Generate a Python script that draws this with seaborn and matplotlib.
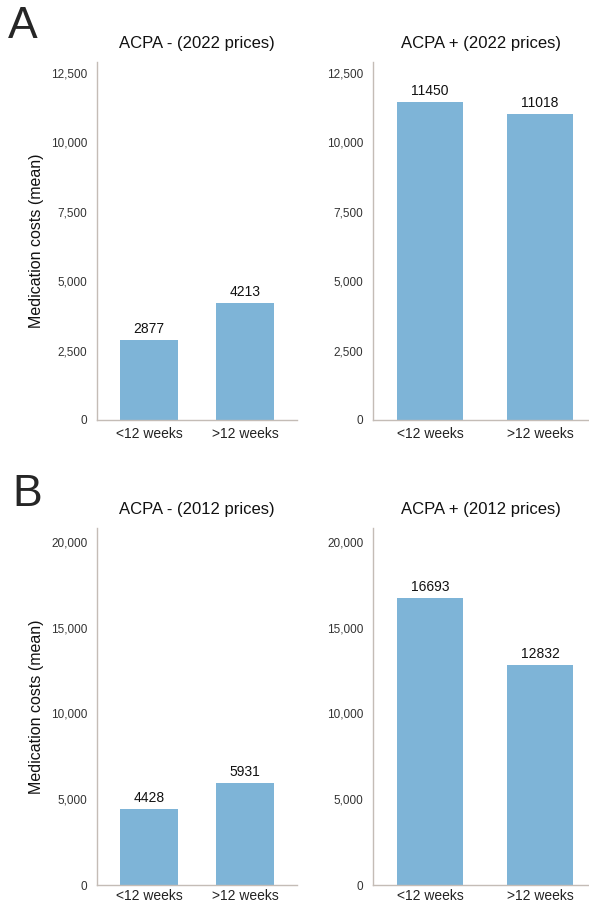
import pandas as pd
import matplotlib
matplotlib.use("Agg")
import matplotlib.pyplot as plt
import seaborn as sns
from matplotlib.ticker import FuncFormatter

# data
groups = ["<12 weeks", ">12 weeks"]
acpa_neg_2022 = [2877, 4213]
acpa_pos_2022 = [11450, 11018]
acpa_neg_2012 = [4428, 5931]
acpa_pos_2012 = [16693, 12832]

titles = ["ACPA - (2022 prices)", "ACPA + (2022 prices)",
          "ACPA - (2012 prices)", "ACPA + (2012 prices)"]
yticks_a = [0, 2500, 5000, 7500, 10000, 12500]
yticks_b = [0, 5000, 10000, 15000, 20000]

sns.set_style("white")
plt.rcParams["font.family"] = ["Liberation Sans", "DejaVu Sans"]

bar_color = "#7eb4d7"
spine_color = "#c4bcb6"

fig = plt.figure(figsize=(5.89, 9.05), dpi=100)
W, H = 589, 905


def px_axes(left, right, top, bottom):
    return fig.add_axes([left / W, 1 - bottom / H, (right - left) / W, (bottom - top) / H])


axes = [
    px_axes(97, 297, 62, 420),
    px_axes(373, 589, 62, 420),
    px_axes(97, 297, 528, 885),
    px_axes(373, 589, 528, 885),
]
values = [acpa_neg_2022, acpa_pos_2022, acpa_neg_2012, acpa_pos_2012]
ylims = [12900, 12900, 20800, 20800]
ticks = [yticks_a, yticks_a, yticks_b, yticks_b]
xlims = [(-0.54, 1.54), (-0.52, 1.445), (-0.54, 1.54), (-0.52, 1.445)]

for i, ax in enumerate(axes):
    df = pd.DataFrame({"group": groups, "cost": values[i]})
    sns.barplot(data=df, x="group", y="cost", ax=ax, color=bar_color,
                width=0.6, saturation=1, edgecolor="none")
    ax.set_xlim(*xlims[i])
    ax.set_ylim(0, ylims[i])
    ax.set_yticks(ticks[i])
    ax.yaxis.set_major_formatter(FuncFormatter(lambda v, p: f"{v:,.0f}"))
    ax.tick_params(axis="y", length=0, pad=7, labelsize=8.5, labelcolor="#333333")
    ax.tick_params(axis="x", length=0, pad=3 if i >= 2 else 5, labelsize=10, labelcolor="#222222")
    ax.set_xlabel("")
    ax.set_title(titles[i], fontsize=12, pad=10, color="#111111")
    for s in ["top", "right"]:
        ax.spines[s].set_visible(False)
    for s in ["left", "bottom"]:
        ax.spines[s].set_color(spine_color)
        ax.spines[s].set_linewidth(1)
    for c in ax.containers:
        ax.bar_label(c, fmt="%d", padding=3, fontsize=10, color="#111111")
    if i % 2 == 0:
        ax.set_ylabel("Medication costs (mean)", fontsize=11.5, labelpad=5, color="#111111")
    else:
        ax.set_ylabel("")

fig.text(8 / W, 1 - 6 / H, "A", fontsize=32, va="top", ha="left")
fig.text(12 / W, 1 - 474 / H, "B", fontsize=32, va="top", ha="left")

fig.savefig("out.png", dpi=100)
